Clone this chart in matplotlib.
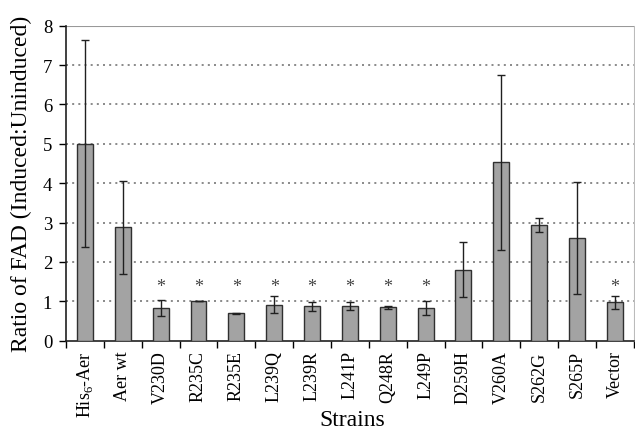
import matplotlib
matplotlib.use("Agg")
import matplotlib.pyplot as plt
import numpy as np

strains = ["His$_6$-Aer", "Aer wt", "V230D", "R235C", "R235E", "L239Q", "L239R",
           "L241P", "Q248R", "L249P", "D259H", "V260A", "S262G", "S265P", "Vector"]
ratios = [5.0, 2.88, 0.82, 1.0, 0.69, 0.91, 0.87, 0.87, 0.85, 0.82, 1.80, 4.53, 2.94, 2.61, 0.97]
errors = [2.63, 1.18, 0.20, 0.0, 0.02, 0.22, 0.12, 0.10, 0.04, 0.18, 0.70, 2.22, 0.17, 1.43, 0.17]
significant = [False, False, True, True, True, True, True, True, True, True, False, False, False, False, True]
yticks = [0, 1, 2, 3, 4, 5, 6, 7, 8]

plt.rcParams['font.family'] = ['Liberation Serif', 'DejaVu Serif']
plt.rcParams['mathtext.fontset'] = 'custom'
plt.rcParams['mathtext.rm'] = 'Liberation Serif'

fig = plt.figure(figsize=(6.35, 4.39), dpi=100)
ax = fig.add_axes([0.104, 0.222, 0.894, 0.717])

x = np.arange(len(strains))
ax.bar(x, ratios, width=0.42, color="#a3a3a3", edgecolor="#303030", linewidth=1.0, zorder=3)
ax.errorbar(x, ratios, yerr=errors, fmt="none", ecolor="#202020", elinewidth=1.0,
            capsize=3, capthick=1.0, zorder=4)
for xi, s in zip(x, significant):
    if s:
        ax.text(xi, 1.38, "*", ha="center", va="center", fontsize=13, color="#444444")

ax.set_xlim(-0.5, len(strains) - 0.5)
ax.set_ylim(0, 8)
ax.set_yticks(yticks)
ax.set_yticklabels([str(t) for t in yticks], fontsize=13.5)
for t in yticks[1:-1]:
    ax.axhline(t, color="#777777", linestyle=(0, (1.2, 2.5)), linewidth=1.2, zorder=1)
ax.axhline(8, color="#999999", linewidth=1.5, zorder=1)

ax.set_xticks(x)
ax.set_xticklabels(strains, rotation=90, fontsize=13)
ax.set_xticks(np.arange(-0.5, len(strains)), minor=True)
ax.tick_params(axis="x", which="major", length=0, pad=7)
ax.tick_params(axis="x", which="minor", length=5, direction="out", width=1.0)
ax.tick_params(axis="y", length=5, direction="out", width=1.0, pad=5)

ax.spines["top"].set_visible(False)
ax.spines["right"].set_color("#bbbbbb")
ax.spines["left"].set_color("#202020")
ax.spines["bottom"].set_color("#202020")
ax.spines["left"].set_linewidth(1.2)
ax.spines["bottom"].set_linewidth(1.2)

ax.set_ylabel("Ratio of FAD (Induced:Uninduced)", fontsize=17, labelpad=8)
fig.text(0.555, 1 - 421 / 439, "Strains", fontsize=17, ha="center", va="center")

fig.savefig("out.png", dpi=100)
